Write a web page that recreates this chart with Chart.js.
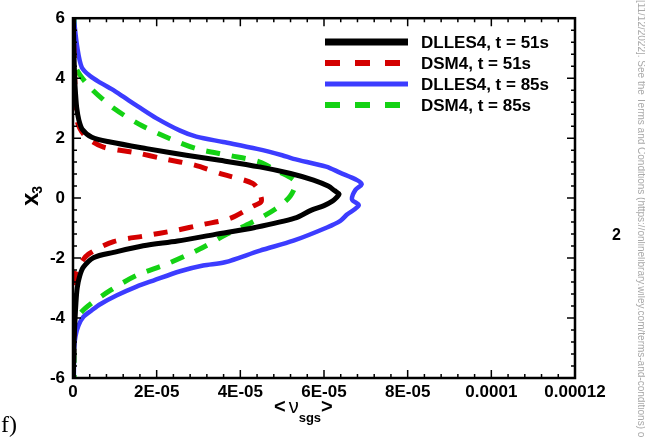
<!DOCTYPE html>
<html>
<head>
<meta charset="utf-8">
<script src="https://cdn.jsdelivr.net/npm/chart.js@4"></script>
<style>
  body { margin: 0; background: #fff; }
  canvas { display: block; }
</style>
</head>
<body>
<canvas id="myChart" width="645" height="437"></canvas>
<script>
  // profiles of <nu_sgs> across x3
  const blackX3 = [6, 5, 4, 3.5, 3, 2.6, 2.3, 2.03, 1.87, 1.65, 1.43, 1.26, 1.04, 0.82, 0.6, 0.4, 0.25, 0.13, 0.02, -0.1, -0.25, -0.4, -0.67, -0.98, -1.21, -1.43, -1.59, -1.81, -1.98, -2.3, -2.6, -3, -3.5, -4, -5, -6];
  const blackNu = [1e-7, 2e-7, 4e-7, 6e-7, 9e-7, 1.4e-6, 2.2e-6, 4.5e-6, 8.9e-6, 1.76e-5, 2.71e-5, 3.51e-5, 4.46e-5, 5.2e-5, 5.75e-5, 6.1e-5, 6.25e-5, 6.36e-5, 6.3e-5, 6.2e-5, 6.0e-5, 5.7e-5, 5.3e-5, 4.35e-5, 3.4e-5, 2.5e-5, 1.68e-5, 9.7e-6, 5e-6, 2.5e-6, 1.6e-6, 1e-6, 7e-7, 5e-7, 2e-7, 1e-7];

  const redX3 = [6, 5, 4.2, 3.5, 2.8, 2.31, 2.0, 1.7, 1.52, 1.3, 1.1, 0.79, 0.49, 0.2, -0.11, -0.27, -0.68, -0.88, -1.08, -1.26, -1.45, -1.87, -2.2, -2.53, -3, -4, -5, -6];
  const redNu = [1e-7, 2e-7, 4e-7, 5e-7, 6e-7, 1.7e-6, 3.5e-6, 7.3e-6, 1.48e-5, 2.2e-5, 2.91e-5, 3.59e-5, 4.3e-5, 4.45e-5, 4.5e-5, 4.3e-5, 3.75e-5, 3.11e-5, 2.44e-5, 1.72e-5, 9.7e-6, 3.7e-6, 1.7e-6, 6e-7, 5e-7, 4e-7, 2e-7, 1e-7];

  const blueX3 = [6, 5.05, 4.36, 4.07, 3.85, 3.57, 3.26, 3.05, 2.66, 2.25, 2.05, 1.87, 1.64, 1.43, 1.31, 1.05, 0.85, 0.6, 0.46, 0.27, -0.05, -0.24, -0.55, -0.76, -0.98, -1.42, -1.75, -2.14, -2.25, -2.44, -2.75, -2.95, -3.24, -3.54, -3.74, -3.96, -4.25, -4.6, -5, -6];
  const blueNu = [2e-7, 1e-6, 2.1e-6, 4.1e-6, 6.5e-6, 1.0e-5, 1.33e-5, 1.56e-5, 2.0e-5, 2.56e-5, 2.95e-5, 3.59e-5, 4.4e-5, 5.0e-5, 5.27e-5, 6.05e-5, 6.38e-5, 6.79e-5, 6.9e-5, 6.75e-5, 6.67e-5, 6.83e-5, 6.55e-5, 6.39e-5, 6.07e-5, 5.27e-5, 4.47e-5, 3.63e-5, 3.11e-5, 2.56e-5, 1.92e-5, 1.52e-5, 1.05e-5, 6.5e-6, 4.5e-6, 2.5e-6, 1.3e-6, 6e-7, 3e-7, 2e-7];

  const greenX3 = [6, 5, 4.4, 4.1, 3.63, 2.97, 2.42, 1.98, 1.65, 1.43, 1.21, 0.94, 0.55, 0.06, -0.37, -0.82, -1.21, -1.7, -2.2, -2.58, -3.08, -3.68, -4.1, -4.6, -5, -6];
  const greenNu = [3e-7, 3e-7, 6e-7, 1.7e-6, 4.5e-6, 1.0e-5, 1.64e-5, 2.32e-5, 2.95e-5, 3.71e-5, 4.45e-5, 4.83e-5, 5.31e-5, 5.19e-5, 4.83e-5, 4.26e-5, 3.67e-5, 3.03e-5, 2.24e-5, 1.52e-5, 8.9e-6, 2.9e-6, 6e-7, 2e-7, 3e-7, 3e-7];

  const seriesLabels = ['DLLES4, t = 51s', 'DSM4, t = 51s', 'DLLES4, t = 85s', 'DSM4, t = 85s'];
  const xTickLabels = ['0', '2E-05', '4E-05', '6E-05', '8E-05', '0.0001', '0.00012'];

  const toPoints = (nu, x3) => nu.map((v, i) => ({x: v, y: x3[i]}));

  const FONT = 'Liberation Sans, Arial, Helvetica, sans-serif';

  // box, inward ticks on all four sides
  const framePlugin = {
    id: 'frame',
    afterDatasetsDraw(chart) {
      const c = chart.ctx, a = chart.chartArea;
      const xs = chart.scales.x, ys = chart.scales.y;
      c.save();
      c.strokeStyle = '#000';
      c.lineWidth = 1.5;
      c.beginPath();
      const xStep = 2e-5, yStep = 2;
      for (let i = 0; i <= 30; i++) {
        const px = xs.getPixelForValue(i * xStep / 5);
        const len = i % 5 === 0 ? 8 : 4;
        c.moveTo(px, a.bottom); c.lineTo(px, a.bottom - len);
        c.moveTo(px, a.top); c.lineTo(px, a.top + len);
      }
      for (let i = 0; i <= 30; i++) {
        const py = ys.getPixelForValue(-6 + i * yStep / 5);
        const len = i % 5 === 0 ? 8 : 4;
        c.moveTo(a.left, py); c.lineTo(a.left + len, py);
        c.moveTo(a.right, py); c.lineTo(a.right - len, py);
      }
      c.stroke();
      c.lineWidth = 2.5;
      c.strokeRect(a.left, a.top, a.right - a.left, a.bottom - a.top);
      c.restore();
    },
    afterDraw(chart) {
      const c = chart.ctx, a = chart.chartArea;
      c.save();
      // legend
      const ds = chart.data.datasets;
      const rowY = [42, 63, 84, 105];
      ds.forEach((d, i) => {
        c.beginPath();
        c.strokeStyle = d.borderColor;
        c.lineWidth = d.borderDash ? 6 : (i === 0 ? 7 : 5);
        c.setLineDash(d.borderDash ? [15, 15] : []);
        c.moveTo(325, rowY[i]);
        c.lineTo(408, rowY[i]);
        c.stroke();
        c.setLineDash([]);
        c.fillStyle = '#000';
        c.font = 'bold 17px ' + FONT;
        c.textBaseline = 'middle';
        c.textAlign = 'left';
        c.fillText(d.label, 421, rowY[i] + 1);
      });

      // x title  < nu_sgs >
      c.fillStyle = '#000';
      c.textBaseline = 'alphabetic';
      let tx = 274;
      c.font = 'bold 20px ' + FONT;
      c.fillText('<', tx, 413); tx += c.measureText('<').width + 3;
      c.font = '20px ' + FONT;
      c.fillText('\u03bd', tx, 413); tx += c.measureText('\u03bd').width;
      c.font = 'bold 13px ' + FONT;
      c.fillText('sgs', tx, 422); tx += c.measureText('sgs').width;
      c.font = 'bold 20px ' + FONT;
      c.fillText('>', tx, 413);

      // y title x3, rotated
      c.save();
      c.translate(38, 206);
      c.rotate(-Math.PI / 2);
      c.font = 'bold 24px ' + FONT;
      c.fillText('x', 0, 0);
      const w = c.measureText('x').width;
      c.font = 'bold 14px ' + FONT;
      c.fillText('3', w - 1, 4);
      c.restore();

      // panel letter
      c.font = '24px Liberation Serif, DejaVu Serif, serif';
      c.fillText('f)', 1, 432);

      // page fragments on the right margin
      c.font = 'bold 16px ' + FONT;
      c.fillText('2', 612, 240);
      c.save();
      c.translate(638, -14);
      c.rotate(Math.PI / 2);
      c.font = '10px ' + FONT;
      c.fillStyle = '#a8a8a8';
      c.fillText('on [11/12/2022]. See the Terms and Conditions (https://onlinelibrary.wiley.com/terms-and-conditions) on Wiley Online Library for rules of use', 0, 0);
      c.restore();
      c.restore();
    }
  };

  const ctx = document.getElementById('myChart').getContext('2d');

  const myChart = new Chart(ctx, {
    type: 'scatter',
    data: {
      datasets: [{
        label: seriesLabels[0],
        data: toPoints(blackNu, blackX3),
        borderColor: '#000000',
        borderWidth: 5,
      }, {
        label: seriesLabels[1],
        data: toPoints(redNu, redX3),
        borderColor: '#d40000',
        borderWidth: 5,
        borderDash: [14, 12],
      }, {
        label: seriesLabels[2],
        data: toPoints(blueNu, blueX3),
        borderColor: '#3c3cff',
        borderWidth: 4.5,
      }, {
        label: seriesLabels[3],
        data: toPoints(greenNu, greenX3),
        borderColor: '#14d214',
        borderWidth: 5,
        borderDash: [14, 12],
      }].map(d => Object.assign(d, {showLine: true, pointRadius: 0, tension: 0.3, fill: false})),
    },
    options: {
      responsive: false,
      animation: false,
      layout: {
        padding: {left: 0, right: 70, top: 12, bottom: 0}
      },
      plugins: {
        legend: {display: false},
        tooltip: {enabled: false},
      },
      scales: {
        x: {
          type: 'linear',
          min: 0,
          max: 0.00012,
          afterFit: s => { s.height = 59; },
          grid: {display: false, drawTicks: false},
          border: {display: false},
          ticks: {
            stepSize: 0.00002,
            padding: 4,
            color: '#000',
            maxRotation: 0,
            font: {family: FONT, size: 17, weight: 'bold'},
            callback: (v, i) => xTickLabels[i],
          },
        },
        y: {
          type: 'linear',
          min: -6,
          max: 6,
          afterFit: s => { s.width = 73; },
          grid: {display: false, drawTicks: false},
          border: {display: false},
          ticks: {
            stepSize: 2,
            padding: 8,
            color: '#000',
            font: {family: FONT, size: 17, weight: 'bold'},
          },
        }
      }
    },
    plugins: [framePlugin]
  });
</script>
</body>
</html>
